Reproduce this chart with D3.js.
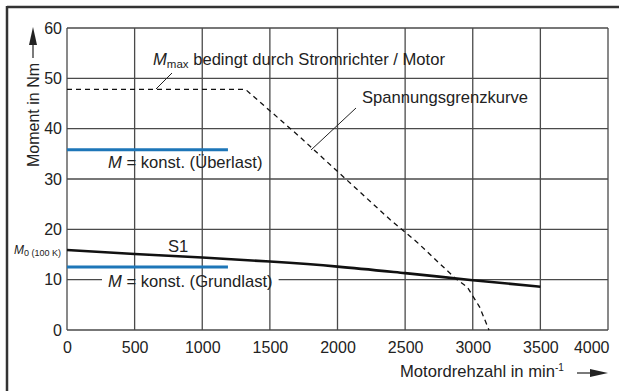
<!DOCTYPE html>
<html>
<head>
<meta charset="utf-8">
<script src="https://cdn.jsdelivr.net/npm/d3@7"></script>
<style>
  body { margin: 0; background: #fff; }
  svg { display: block; font-family: "Liberation Sans", Arial, sans-serif; }
</style>
</head>
<body>
<div id="chart"></div>
<script>
// data
const speedTicks = [0, 500, 1000, 1500, 2000, 2500, 3000, 3500, 4000]
const torqueTicks = [0, 10, 20, 30, 40, 50, 60]

const s1Speed = [0, 500, 1000, 1500, 2000, 2500, 3000, 3500]
const s1Torque = [15.9, 15.1, 14.4, 13.6, 12.6, 11.3, 9.9, 8.6]

const mmaxSpeed = [0, 1320, 1720, 2390, 2590, 2870, 2960, 3050, 3120]
const mmaxTorque = [47.8, 47.8, 38.4, 21.9, 17.4, 10.3, 8.5, 4.6, 0]

const overloadSpeed = [0, 1190]
const overloadTorque = [35.8, 35.8]
const baseSpeed = [0, 1190]
const baseTorque = [12.5, 12.5]

const W = 619, H = 391
const margin = ({top: 28, right: 11, bottom: 61, left: 67})
const width = W - margin.left - margin.right,
    height = H - margin.top - margin.bottom

const svg = d3.select("#chart").append("svg")
    .attr("width", W)
    .attr("height", H)

// outer frame (top and left only)
svg.append("line").attr("x1", 7).attr("x2", W).attr("y1", 7).attr("y2", 7)
    .attr("stroke", "#333").attr("stroke-width", 2.5)
svg.append("line").attr("x1", 7).attr("x2", 7).attr("y1", 6).attr("y2", H)
    .attr("stroke", "#333").attr("stroke-width", 2.5)

const g = svg.append("g")
    .attr("transform", "translate(" + margin.left + "," + margin.top + ")")

const x = d3.scaleLinear().domain([0, 4000]).range([0, width])
const y = d3.scaleLinear().domain([0, 60]).range([height, 0])

const gridColor = "#4a4a4a"

// horizontal grid
g.append("g").selectAll("line")
    .data(torqueTicks)
    .join("line")
    .attr("x1", 0).attr("x2", width)
    .attr("y1", d => y(d)).attr("y2", d => y(d))
    .attr("stroke", gridColor).attr("stroke-width", 1.3)

// white boxes behind the constant torque labels
const labelLayer = g.append("g")

// vertical grid
g.append("g").selectAll("line")
    .data(speedTicks)
    .join("line")
    .attr("x1", d => x(d)).attr("x2", d => x(d))
    .attr("y1", 0).attr("y2", height)
    .attr("stroke", gridColor).attr("stroke-width", 1.3)

// axes, labels only
const xAxis = d3.axisBottom(x).tickValues(speedTicks).tickFormat(d3.format("d"))
    .tickSize(0).tickPadding(12)
const yAxis = d3.axisLeft(y).tickValues(torqueTicks).tickFormat(d3.format("d"))
    .tickSize(0).tickPadding(5)

g.append("g")
    .attr("transform", "translate(0," + height + ")")
    .call(xAxis)
    .call(a => a.select(".domain").remove())
    .selectAll("text")
    .attr("font-size", 16).attr("fill", "#222")
    .attr("font-family", "Liberation Sans, Arial, sans-serif")
    .attr("text-anchor", d => d === 4000 ? "end" : "middle")
    .attr("dx", d => d === 4000 ? 1 : 0)

g.append("g")
    .call(yAxis)
    .call(a => a.select(".domain").remove())
    .selectAll("text")
    .attr("font-size", 16).attr("fill", "#222")
    .attr("font-family", "Liberation Sans, Arial, sans-serif")

// curves
const line = d3.line().x(d => x(d[0])).y(d => y(d[1]))

g.append("path")
    .datum(mmaxSpeed.map((s, i) => [s, mmaxTorque[i]]))
    .attr("d", line)
    .attr("fill", "none")
    .attr("stroke", "#111")
    .attr("stroke-width", 1.3)
    .attr("stroke-dasharray", "5,4")

g.append("path")
    .datum(s1Speed.map((s, i) => [s, s1Torque[i]]))
    .attr("d", line.curve(d3.curveMonotoneX))
    .attr("fill", "none")
    .attr("stroke", "#111")
    .attr("stroke-width", 2.6)
line.curve(d3.curveLinear)

const blue = "#1d76b8"
g.append("path")
    .datum(overloadSpeed.map((s, i) => [s, overloadTorque[i]]))
    .attr("d", line)
    .attr("stroke", blue).attr("stroke-width", 3).attr("fill", "none")
g.append("path")
    .datum(baseSpeed.map((s, i) => [s, baseTorque[i]]))
    .attr("d", line)
    .attr("stroke", blue).attr("stroke-width", 3).attr("fill", "none")

// annotations
const fs = 16.6
function mLabel(px, py, rest, box) {
    const t = g.append("text")
        .attr("x", px).attr("y", py)
        .attr("font-size", fs).attr("fill", "#222")
    t.append("tspan").attr("font-style", "italic").text("M")
    t.append("tspan").text(" = " + rest)
    if (box) {
        const b = t.node().getBBox()
        labelLayer.append("rect")
            .attr("x", b.x - 6).attr("y", b.y)
            .attr("width", b.width + 12).attr("height", b.height)
            .attr("fill", "#fff")
    }
}
mLabel(41, 140, "konst. (Überlast)", false)
mLabel(41, 259, "konst. (Grundlast)", true)

g.append("text")
    .attr("x", 101).attr("y", 224)
    .attr("font-size", fs).attr("fill", "#222")
    .text("S1")

const mmax = g.append("text")
    .attr("x", 86).attr("y", 37)
    .attr("font-size", fs).attr("fill", "#222")
mmax.append("tspan").attr("font-style", "italic").text("M")
mmax.append("tspan").attr("font-size", 11.5).attr("dy", 3).text("max")
mmax.append("tspan").attr("dy", -3).text(" bedingt durch Stromrichter / Motor")

g.append("line")
    .attr("x1", 89).attr("y1", 61).attr("x2", 105).attr("y2", 45)
    .attr("stroke", "#222").attr("stroke-width", 1)

g.append("text")
    .attr("x", 295).attr("y", 75)
    .attr("font-size", fs).attr("fill", "#222")
    .text("Spannungsgrenzkurve")

g.append("line")
    .attr("x1", 244).attr("y1", 122).attr("x2", 289).attr("y2", 80)
    .attr("stroke", "#222").attr("stroke-width", 1)

// M0 label left of the axis
const m0 = svg.append("text")
    .attr("x", 14).attr("y", 254)
    .attr("font-size", 12).attr("fill", "#222")
m0.append("tspan").attr("font-style", "italic").text("M")
m0.append("tspan").attr("font-size", 9).attr("dy", 2).text("0 (100 K)")

// axis titles
const yt = svg.append("g").attr("transform", "translate(39,167) rotate(-90)")
yt.append("text")
    .attr("x", 0).attr("y", 0)
    .attr("font-size", 16).attr("fill", "#222")
    .text("Moment in Nm")
yt.append("line")
    .attr("x1", 109).attr("x2", 124).attr("y1", -6).attr("y2", -6)
    .attr("stroke", "#222").attr("stroke-width", 1.2)
yt.append("path")
    .attr("d", "M122,-10 L140,-6 L122,-2 Z")
    .attr("fill", "#222")

const xt = svg.append("text")
    .attr("x", 400).attr("y", 377)
    .attr("font-size", fs).attr("fill", "#222")
xt.append("tspan").text("Motordrehzahl in min")
xt.append("tspan").attr("font-size", 10).attr("dy", -6).text("-1")

svg.append("line")
    .attr("x1", 577).attr("x2", 592).attr("y1", 373).attr("y2", 373)
    .attr("stroke", "#222").attr("stroke-width", 1.2)
svg.append("path")
    .attr("d", "M590,369 L608,373 L590,377 Z")
    .attr("fill", "#222")
</script>
</body>
</html>
